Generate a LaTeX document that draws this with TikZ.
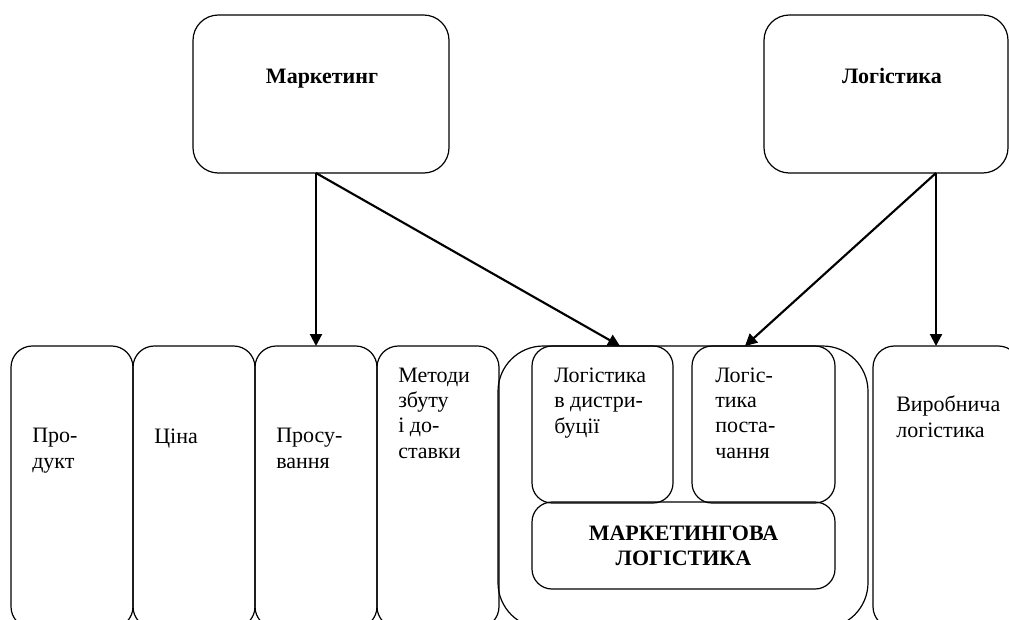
\documentclass[tikz,border=0pt]{standalone}
\usepackage{fontspec}
\setmainfont{Liberation Serif}
\usetikzlibrary{arrows.meta,calc,positioning}

\begin{document}
\begin{tikzpicture}[x=0.75pt,y=-0.75pt,>={Triangle[length=9pt,width=9pt]},
  font=\fontsize{16.5}{19}\selectfont,
  box/.style={draw,line width=0.9pt,inner sep=0pt,outer sep=0pt,anchor=north west},
  col/.style={box,rounded corners=16pt,minimum width=91.5pt,minimum height=211.5pt},
  inbox/.style={box,rounded corners=15pt},
  txt/.style={anchor=base west,align=left,inner sep=0pt},
  head/.style={anchor=base,inner sep=0pt,font=\fontsize{16.5}{19}\selectfont\bfseries},
  arr/.style={->,line width=1.6pt}]
  \clip (0,0) rectangle (1009,619);

  % Top blocks
  \node[box,rounded corners=19pt,minimum width=192pt,minimum height=118.5pt] (mkt) at (193,15) {};
  \node[box,rounded corners=19pt,minimum width=183pt,minimum height=118.5pt] (log) at (764,15) {};
  \node[head] (mktt) at (322,83) {Маркетинг};
  \node[head] (logt) at (892,83) {Логістика};

  % Marketing mix columns (last baseline given)
  \node[col] (prod) at (11,346) {};
  \node[col,right=0pt of prod.north east,anchor=north west] (cina) {};
  \node[col,right=0pt of cina.north east,anchor=north west] (pros) {};
  \node[col,right=0pt of pros.north east,anchor=north west] (metod) {};
  \node[txt] (prodt) at (32,468) {Про-\\дукт};
  \node[txt] (cinat) at (154,443) {Ціна};
  \node[txt] (prost) at (276,468) {Просу-\\вання};
  \node[txt] (metodt) at (398,458) {Методи\\збуту\\і до-\\ставки};

  % Marketing logistics container
  \node[box,rounded corners=34pt,minimum width=277.5pt,minimum height=211.5pt] (cont) at (498,346) {};
  \node[inbox,minimum width=105.75pt,minimum height=117.75pt] (distr) at (532,346) {};
  \node[inbox,minimum width=107.25pt,minimum height=117.75pt] (post) at (692,346) {};
  \node[inbox,minimum width=227.25pt,minimum height=65.25pt,align=center,
        font=\fontsize{16.5}{19}\selectfont\bfseries] (ml) at (532,502) {МАРКЕТИНГОВА\\ЛОГІСТИКА};
  \node[txt] (distrt) at (554,433) {Логістика\\в дистри-\\буції};
  \node[txt] (postt) at (715,458) {Логіс-\\тика\\поста-\\чання};

  % Production logistics
  \node[col,minimum width=110pt] (vyrob) at (873,346) {};
  \node[txt] (vyrobt) at (896,437) {Виробнича\\логістика};

  % Arrows
  \coordinate (mktfoot) at (mkt.south -| pros.north);
  \coordinate (logfoot) at (936,173);
  \draw[arr] (mktfoot) -- (pros.north);
  \draw[arr] (mktfoot) -- ($(cont.north)+(-63,0)$);
  \draw[arr] (logfoot) -- ($(cont.north)+(62,0)$);
  \draw[arr] (logfoot) -- (logfoot |- vyrob.north);
\end{tikzpicture}
\end{document}
